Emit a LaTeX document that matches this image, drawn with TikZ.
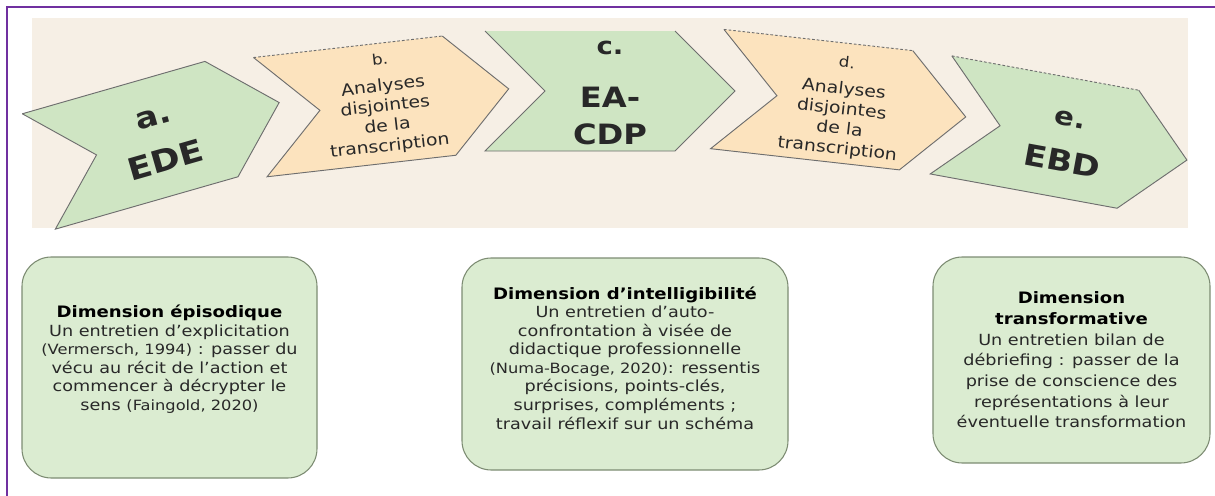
\documentclass[tikz,border=0pt]{standalone}
\usepackage{fontspec}
\setmainfont{DejaVu Sans}[FakeStretch=1.15]
\definecolor{framepurple}{RGB}{112,48,160}
\definecolor{bandbeige}{RGB}{246,239,229}
\definecolor{chevgreen}{RGB}{207,229,195}
\definecolor{chevorange}{RGB}{252,227,190}
\definecolor{boxgreen}{RGB}{219,236,209}
\definecolor{boxedge}{RGB}{125,140,115}
\definecolor{edgegray}{RGB}{110,110,110}
\definecolor{textdark}{RGB}{40,40,40}
\newcommand{\smallref}[1]{{\fontsize{10.6}{13.9}\selectfont #1}}
\newcommand{\dimtitle}[1]{{\bfseries\color{black}\fontsize{11.8}{13.9}\selectfont #1}}
\def\px{0.75pt}
\begin{document}
\begin{tikzpicture}[
    x=0.75pt, y=-0.75pt,
    frameline/.style={draw=framepurple, line width=1.7pt},
    chevline/.style={draw=edgegray, line width=0.7pt},
    chevdash/.style={draw=edgegray, line width=0.7pt, dash pattern=on 2pt off 1.5pt},
    chevnone/.style={draw=none},
    chevsmall/.style={align=center, text=textdark, font=\fontsize{12.3}{15}\selectfont},
    dimbox/.style={draw=boxedge, line width=0.8pt, fill=boxgreen, rounded corners=22pt},
    dimtext/.style={align=center, text=textdark, font=\fontsize{11.5}{13.9}\selectfont}
]
    \useasboundingbox (0,0) rectangle (1215,496);

    % Frame and band
    \draw[frameline] (7,496) -- (7,7) -- (1215,7);
    \fill[bandbeige] (32,18) rectangle (1188,228);

    % Chevrons: name / centre x / centre y / angle / fill / top edge
    \foreach \name/\cx/\cy/\ang/\col/\topedge in {
        a/159/137/16/chevgreen/chevline,
        b/384.5/103/6.5/chevorange/chevdash,
        c/610/91/0/chevgreen/chevnone,
        d/841.5/103/-6.4/chevorange/chevdash,
        e/1064/137.5/-10.4/chevgreen/chevdash} {
        \begin{scope}[shift={(\cx,\cy)}, rotate=\ang]
            \coordinate (\name-tl) at (-125,-60);
            \coordinate (\name-tr) at (65,-60);
            \coordinate (\name-tip) at (125,0);
            \coordinate (\name-br) at (65,60);
            \coordinate (\name-bl) at (-125,60);
            \coordinate (\name-notch) at (-65,0);
            \fill[\col] (\name-tl) -- (\name-tr) -- (\name-tip) -- (\name-br)
                -- (\name-bl) -- (\name-notch) -- cycle;
            \draw[chevline] (\name-tr) -- (\name-tip) -- (\name-br) -- (\name-bl)
                -- (\name-notch) -- (\name-tl);
            \draw[\topedge] (\name-tl) -- (\name-tr);
        \end{scope}
    }

    % Chevron labels
    \node[align=center, text=textdark, font=\bfseries\fontsize{23}{35}\selectfont, rotate=16] (a) at (160,140)
        {{\fontsize{22}{35}\selectfont a.}\\EDE};
    \node[chevsmall, rotate=6.5] (b) at (385,104)
        {{\fontsize{11}{15}\selectfont b.}\\[5pt]Analyses\\disjointes\\de la\\transcription};
    \node[align=center, text=textdark, font=\bfseries\fontsize{21}{28}\selectfont] (c) at (610,93)
        {{\fontsize{18}{28}\selectfont c.}\\[12pt]EA-\\CDP};
    \node[chevsmall, rotate=-6.4] (d) at (842,107)
        {{\fontsize{11}{15}\selectfont d.}\\[5pt]Analyses\\disjointes\\de la\\transcription};
    \node[align=center, text=textdark, font=\bfseries\fontsize{22}{34}\selectfont, rotate=-10.4] (e) at (1066,142)
        {{\fontsize{19}{34}\selectfont e.}\\EBD};

    % Dimension boxes
    \node[dimbox, minimum width={295*\px}, minimum height={221*\px}] (dimA) at (169.5,367.5) {};
    \node[dimtext] (dimA-text) at (169.5,359)
        {\dimtitle{Dimension épisodique}\\
         Un entretien d’explicitation\\
         \smallref{(Vermersch, 1994)} : passer du\\
         vécu au récit de l’action et\\
         commencer à décrypter le\\
         sens \smallref{(Faingold, 2020)}};
    \node[dimbox, minimum width={326*\px}, minimum height={212*\px}] (dimC) at (625,364) {};
    \node[dimtext] (dimC-text) at (625,358)
        {\dimtitle{Dimension d’intelligibilité}\\
         Un entretien d’auto-\\
         confrontation à visée de\\
         didactique professionnelle\\
         \smallref{(Numa-Bocage, 2020)}: ressentis\\
         précisions, points-clés,\\
         surprises, compléments ;\\
         travail réflexif sur un schéma};
    \node[dimbox, minimum width={277*\px}, minimum height={206*\px}] (dimE) at (1071.5,360) {};
    \node[dimtext, font=\fontsize{11.5}{15.5}\selectfont] (dimE-text) at (1071.5,360)
        {\dimtitle{Dimension}\\
         \dimtitle{transformative}\\
         Un entretien bilan de\\
         débriefing : passer de la\\
         prise de conscience des\\
         représentations à leur\\
         éventuelle transformation};

\end{tikzpicture}
\end{document}
